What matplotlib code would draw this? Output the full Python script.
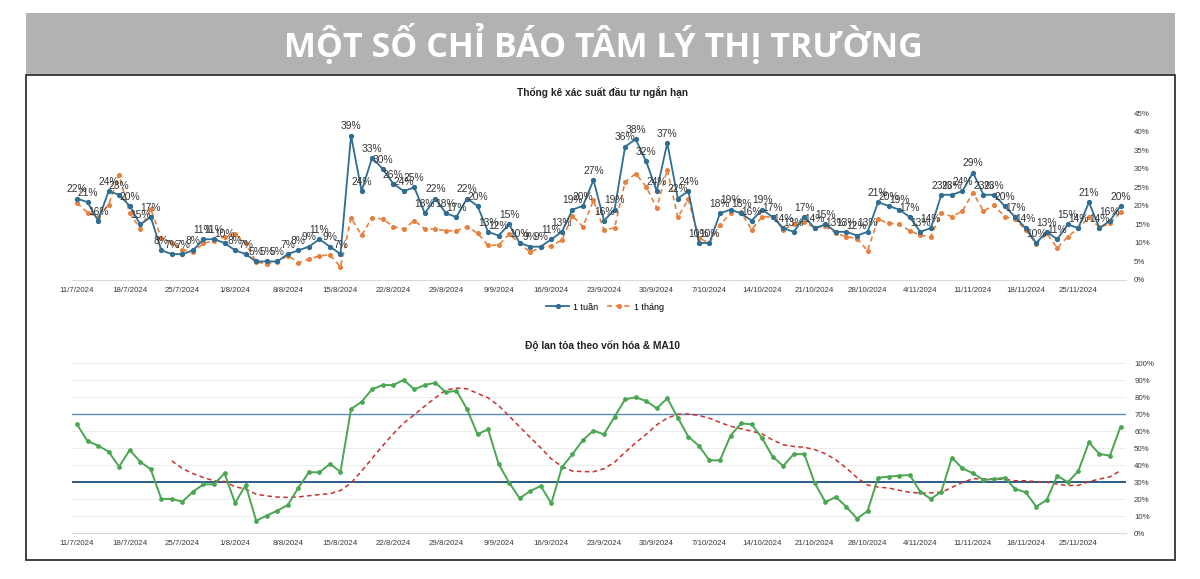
import numpy as np
import matplotlib
matplotlib.use("Agg")
import matplotlib.pyplot as plt
from matplotlib.patches import Rectangle
from matplotlib.lines import Line2D
from matplotlib.ticker import FuncFormatter

# ---------------- data ----------------
tick_labels = ["11/7/2024", "18/7/2024", "25/7/2024", "1/8/2024", "8/8/2024",
               "15/8/2024", "22/8/2024", "29/8/2024", "9/9/2024", "16/9/2024",
               "23/9/2024", "30/9/2024", "7/10/2024", "14/10/2024", "21/10/2024",
               "28/10/2024", "4/11/2024", "11/11/2024", "18/11/2024", "25/11/2024"]

week_1 = [22, 21, 16, 24, 23, 20, 15, 17, 8, 7,
          7, 8, 11, 11, 10, 8, 7, 5, 5, 5,
          7, 8, 9, 11, 9, 7, 39, 24, 33, 30,
          26, 24, 25, 18, 22, 18, 17, 22, 20, 13,
          12, 15, 10, 9, 9, 11, 13, 19, 20, 27,
          16, 19, 36, 38, 32, 24, 37, 22, 24, 10,
          10, 18, 19, 18, 16, 19, 17, 14, 13, 17,
          14, 15, 13, 13, 12, 13, 21, 20, 19, 17,
          13, 14, 23, 23, 24, 29, 23, 23, 20, 17,
          14, 10, 13, 11, 15, 14, 21, 14, 16, 20]

month_1 = [20.8, 18.2, 17.1, 20.3, 28.4, 18.0, 13.9, 19.1, 11.3, 10.0,
           8.2, 7.6, 9.9, 10.6, 11.7, 12.5, 9.9, 4.9, 4.3, 4.9,
           6.6, 4.7, 5.6, 6.5, 6.8, 3.5, 16.8, 12.1, 16.8, 16.5,
           14.4, 13.8, 16.0, 13.8, 13.8, 13.3, 13.3, 14.4, 12.6, 9.4,
           9.4, 12.4, 9.9, 7.5, 8.8, 9.2, 10.8, 17.3, 14.4, 21.5,
           13.5, 14.1, 26.5, 28.7, 25.2, 19.4, 29.8, 16.9, 21.8, 11.3,
           10.0, 14.8, 18.0, 18.3, 13.6, 17.1, 17.0, 13.6, 15.0, 15.6,
           14.1, 14.5, 12.6, 11.7, 11.2, 7.9, 16.4, 15.3, 15.1, 13.3,
           12.1, 11.7, 18.2, 17.1, 18.6, 23.6, 18.6, 20.2, 17.1, 16.4,
           13.5, 9.7, 12.6, 8.6, 11.7, 14.0, 16.9, 14.2, 15.3, 18.3]

breadth = [64.1, 54.3, 51.6, 48.0, 39.2, 49.0, 42.1, 37.6, 20.2, 20.2,
           18.6, 24.5, 28.8, 28.8, 35.3, 17.8, 28.4, 7.4, 10.4, 13.3,
           16.6, 26.8, 35.9, 35.9, 40.8, 36.2, 73.1, 77.4, 84.7, 87.2,
           87.2, 90.2, 84.7, 87.2, 88.6, 82.9, 83.9, 73.1, 58.2, 61.2,
           40.8, 29.8, 20.6, 24.9, 27.8, 17.6, 38.8, 46.5, 54.9, 60.4,
           58.2, 68.6, 78.8, 80.0, 77.8, 73.5, 79.4, 68.0, 56.8, 51.5,
           42.9, 42.9, 57.4, 64.7, 64.1, 55.9, 45.1, 39.6, 46.6, 46.6,
           29.4, 18.4, 21.4, 15.5, 8.6, 13.1, 32.7, 33.3, 33.9, 34.3,
           24.5, 20.2, 24.5, 44.5, 38.2, 35.3, 31.4, 31.9, 32.7, 26.1,
           24.1, 15.7, 19.6, 33.9, 30.0, 36.7, 53.5, 46.6, 45.7, 62.7]

# MA10 line as read (starts at 10th point)
ma10 = [42.6, 38.1, 35.1, 32.8, 30.9, 30.5, 27.4, 26.0, 23.0, 22.0,
        21.3, 21.1, 21.4, 22.1, 22.8, 23.3, 25.2, 29.6, 36.6, 44.1,
        51.5, 58.5, 64.9, 69.7, 74.9, 79.7, 84.3, 85.4, 85.0, 82.3,
        79.7, 75.1, 69.0, 62.6, 56.4, 50.3, 43.8, 39.3, 36.6, 36.3,
        36.2, 38.0, 41.8, 47.7, 53.2, 58.2, 63.8, 67.8, 70.0, 70.2,
        69.3, 67.7, 65.2, 63.0, 61.5, 60.1, 58.4, 54.9, 52.1, 51.1,
        50.6, 49.2, 46.8, 43.2, 38.3, 32.7, 28.4, 27.2, 26.6, 25.3,
        24.1, 23.6, 23.8, 24.1, 27.0, 29.9, 32.1, 32.0, 31.9, 31.8,
        30.9, 30.9, 30.4, 30.0, 28.9, 28.1, 28.2, 30.4, 31.9, 33.2,
        36.9]

upper_level = 70
lower_level = 30

# ---------------- style ----------------
plt.rcParams['font.family'] = ['Liberation Sans', 'DejaVu Sans']
BLUE = '#2f6d93'
ORANGE = '#e6813d'
GREEN = '#4aa651'
RED = '#c8322e'
TXT = '#333333'

W, H = 1200, 579
fig = plt.figure(figsize=(W / 100, H / 100), dpi=100)
fig.patch.set_facecolor('white')

# banner + frame
fig.add_artist(Rectangle((26 / W, 1 - 75 / H), 1149 / W, 62 / H,
                         transform=fig.transFigure, facecolor='#b1b2b4',
                         edgecolor='none', zorder=0))
fig.text(603 / W, 1 - 45 / H, "MỘT SỐ CHỈ BÁO TÂM LÝ THỊ TRƯỜNG",
         family=['Open Sans', 'DejaVu Sans'], weight='bold', color='white',
         fontsize=24.5, ha='center', va='center')
fig.add_artist(Rectangle((26 / W, 1 - 560 / H), 1149 / W, 485 / H,
                         transform=fig.transFigure, fill=False,
                         edgecolor='#333333', lw=1.3, zorder=0))

left = 71.7 / W
width = (1125.8 - 71.7) / W
ax1 = fig.add_axes([left, 1 - 280 / H, width, 166.7 / H])
ax2 = fig.add_axes([left, 1 - 533.3 / H, width, 170 / H])

x = np.arange(len(week_1))
xt = np.arange(0, len(week_1), 5)
pct = FuncFormatter(lambda v, p: f"{v:.0f}%")

for ax in (ax1, ax2):
    ax.set_xlim(-0.5, len(week_1) - 0.5)
    for s in ('top', 'left', 'right'):
        ax.spines[s].set_visible(False)
    ax.spines['bottom'].set_color('#d9d9d9')
    ax.spines['bottom'].set_linewidth(0.8)
    ax.yaxis.tick_right()
    ax.yaxis.set_major_formatter(pct)
    ax.tick_params(axis='both', length=0, labelsize=5.7, labelcolor='#3a3a3a')
    ax.tick_params(axis='y', pad=6)
    ax.tick_params(axis='x', pad=5)
    ax.set_xticks(xt)
    ax.set_xticklabels(tick_labels)
    ax.set_facecolor('none')

# ---- top chart ----
ax1.set_ylim(0, 45)
ax1.set_yticks(np.arange(0, 46, 5))
ax1.plot(x, month_1, color=ORANGE, lw=1.2, dashes=(3, 2.2), marker='o',
         markersize=2.6, zorder=2)
ax1.plot(x, week_1, color=BLUE, lw=1.3, marker='o', markersize=2.8, zorder=3)
for xi, v in zip(x, week_1):
    ax1.annotate(f"{v}%", (xi, v), xytext=(0, 3), textcoords='offset points',
                 ha='center', va='bottom', fontsize=7.4, color=TXT, zorder=4)
fig.text(603 / W, 1 - 92 / H, "Thống kê xác suất đầu tư ngắn hạn",
         fontsize=7.3, weight='bold', color='#222222', ha='center', va='center')
handles = [Line2D([0], [0], color=BLUE, lw=1.3, marker='o', markersize=2.8),
           Line2D([0], [0], color=ORANGE, lw=1.2, dashes=(3, 2.2), marker='o',
                  markersize=2.6)]
fig.legend(handles, ["1 tuần", "1 tháng"], loc='center',
           bbox_to_anchor=(605 / W, 1 - 307 / H), ncol=2, frameon=False,
           fontsize=6.5, handlelength=2.6, columnspacing=1.0, handletextpad=0.4)

# ---- bottom chart ----
ax2.set_ylim(0, 100)
ax2.set_yticks(np.arange(0, 101, 10))
ax2.grid(axis='y', color='#ececec', lw=0.7, zorder=0)
ax2.set_axisbelow(True)
ax2.axhline(upper_level, color='#5b8cba', lw=1.0, zorder=1)
ax2.axhline(lower_level, color='#2c5c88', lw=1.4, zorder=1)
ax2.plot(x, breadth, color=GREEN, lw=1.4, marker='o', markersize=2.4, zorder=3)
ax2.plot(x[9:], ma10, color=RED, lw=1.1, dashes=(3, 2.2), zorder=2)
fig.text(603 / W, 1 - 346 / H, "Độ lan tỏa theo vốn hóa & MA10",
         fontsize=7.3, weight='bold', color='#222222', ha='center', va='center')

fig.savefig("out.png", dpi=100)
